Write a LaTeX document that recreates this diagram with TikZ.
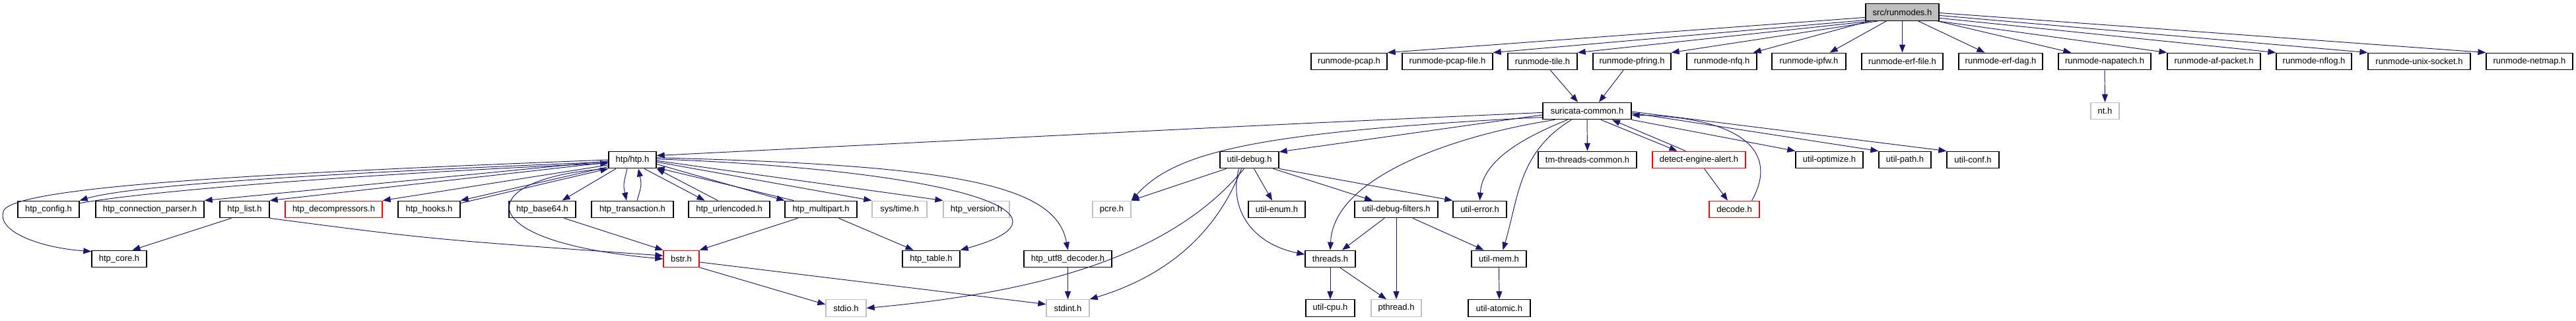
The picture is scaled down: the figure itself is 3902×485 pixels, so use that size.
\documentclass[tikz,border=0pt]{standalone}
\usepackage{fontspec}
\setmainfont{Liberation Sans}
\usetikzlibrary{arrows.meta}
\definecolor{edgeblue}{HTML}{191970}
\definecolor{sysgray}{HTML}{BFBFBF}
\definecolor{hdrred}{HTML}{FF0000}
\tikzset{
  hdr/.style={draw=black, line width=1.3pt, fill=white, inner sep=0pt,
    minimum height=25.5pt, font=\fontsize{13}{15}\selectfont, text=black},
  redhdr/.style={hdr, draw=hdrred},
  syshdr/.style={hdr, draw=sysgray},
  roothdr/.style={hdr, fill=sysgray},
  edge/.style={draw=edgeblue, line width=0.95pt, -{Triangle[length=12pt,width=9pt]}},
}
\begin{document}
\begin{tikzpicture}[x=1pt,y=-1pt]
\useasboundingbox[fill=white] (0,0) rectangle (3902,485);
% row 0
\node[roothdr, minimum width=111pt] (root) at (2881.5,18.5) {src/runmodes.h};
% row 1
\node[hdr, minimum width=115pt] (pcap) at (2043.5,93) {runmode-pcap.h};
\node[hdr, minimum width=137pt] (pcapfile) at (2192.5,93) {runmode-pcap-file.h};
\node[hdr, minimum width=105pt] (tile) at (2336.5,93) {runmode-tile.h};
\node[hdr, minimum width=118pt] (pfring) at (2472,93) {runmode-pfring.h};
\node[hdr, minimum width=106pt] (nfq) at (2608,93) {runmode-nfq.h};
\node[hdr, minimum width=112pt] (ipfw) at (2740,93) {runmode-ipfw.h};
\node[hdr, minimum width=123pt] (erffile) at (2881.5,93) {runmode-erf-file.h};
\node[hdr, minimum width=127pt] (erfdag) at (3030.5,93) {runmode-erf-dag.h};
\node[hdr, minimum width=140pt] (napatech) at (3188,93) {runmode-napatech.h};
\node[hdr, minimum width=141pt] (afpacket) at (3353.5,93) {runmode-af-packet.h};
\node[hdr, minimum width=114pt] (nflog) at (3505,93) {runmode-nflog.h};
\node[hdr, minimum width=155pt] (unixsocket) at (3664.5,93) {runmode-unix-socket.h};
\node[hdr, minimum width=131pt] (netmap) at (3831.5,93) {runmode-netmap.h};
% row 2
\node[hdr, minimum width=134pt] (sc) at (2404,168) {suricata-common.h};
\node[syshdr, minimum width=43pt] (nt) at (3188.5,168) {nt.h};
% row 3
\node[hdr, minimum width=72pt] (htp) at (958,242) {htp/htp.h};
\node[hdr, minimum width=89pt] (ud) at (1892.5,242) {util-debug.h};
\node[hdr, minimum width=149pt] (tm) at (2404.5,242) {tm-threads-common.h};
\node[redhdr, minimum width=141pt] (dea) at (2573.5,242) {detect-engine-alert.h};
\node[hdr, minimum width=102pt] (uopt) at (2771,242) {util-optimize.h};
\node[hdr, minimum width=79pt] (upath) at (2885.5,242) {util-path.h};
\node[hdr, minimum width=79pt] (uconf) at (2988.5,242) {util-conf.h};
% row 4
\node[hdr, minimum width=93pt] (config) at (73.5,317) {htp\_config.h};
\node[hdr, minimum width=164pt] (connparser) at (227,317) {htp\_connection\_parser.h};
\node[hdr, minimum width=75pt] (list) at (370.5,317) {htp\_list.h};
\node[redhdr, minimum width=147pt] (decomp) at (505.5,317) {htp\_decompressors.h};
\node[hdr, minimum width=94pt] (hooks) at (650,317) {htp\_hooks.h};
\node[hdr, minimum width=101pt] (base64) at (821.5,317) {htp\_base64.h};
\node[hdr, minimum width=124pt] (trans) at (958,317) {htp\_transaction.h};
\node[hdr, minimum width=123pt] (urlenc) at (1104.5,317) {htp\_urlencoded.h};
\node[hdr, minimum width=109pt] (multipart) at (1243.5,317) {htp\_multipart.h};
\node[syshdr, minimum width=83pt] (systime) at (1362.5,317) {sys/time.h};
\node[syshdr, minimum width=100pt] (version) at (1479,317) {htp\_version.h};
\node[syshdr, minimum width=58pt] (pcre) at (1684,317) {pcre.h};
\node[hdr, minimum width=86pt] (uenum) at (1934,317) {util-enum.h};
\node[hdr, minimum width=126pt] (udf) at (2115,317) {util-debug-filters.h};
\node[hdr, minimum width=81pt] (uerr) at (2241.5,317) {util-error.h};
\node[redhdr, minimum width=76pt] (decode) at (2627,317) {decode.h};
% row 5
\node[hdr, minimum width=83pt] (core) at (180.5,392) {htp\_core.h};
\node[redhdr, minimum width=54pt] (bstr) at (1032,392) {bstr.h};
\node[hdr, minimum width=87pt] (table) at (1410.5,392) {htp\_table.h};
\node[hdr, minimum width=133pt] (utf8) at (1617.5,392) {htp\_utf8\_decoder.h};
\node[hdr, minimum width=76pt] (threads) at (2015,392) {threads.h};
\node[hdr, minimum width=83pt] (umem) at (2270.5,392) {util-mem.h};
% row 6
\node[syshdr, minimum width=61pt] (stdio) at (1281.5,466.5) {stdio.h};
\node[syshdr, minimum width=65pt] (stdint) at (1617.5,466.5) {stdint.h};
\node[hdr, minimum width=74pt] (ucpu) at (2015,466.5) {util-cpu.h};
\node[syshdr, minimum width=76pt] (pthread) at (2115,466.5) {pthread.h};
\node[hdr, minimum width=94pt] (uatomic) at (2271,466.5) {util-atomic.h};

% root edges
\draw[edge] (root.188) -- (pcap.north east);
\draw[edge] (root.192) -- (pcapfile.north east);
\draw[edge] (root.196) -- (tile.north east);
\draw[edge] (root.200) -- (pfring.north east);
\draw[edge] ([xshift=6pt]root.south west) -- ([xshift=-6pt]nfq.north east);
\draw[edge] ([xshift=32pt]root.south west) -- ([xshift=-25pt]ipfw.north east);
\draw[edge] (root.south) -- (erffile.north);
\draw[edge] ([xshift=-32pt]root.south east) -- ([xshift=40pt]erfdag.north west);
\draw[edge] ([xshift=-3pt]root.south east) -- ([xshift=20pt]napatech.north west);
\draw[edge] (root.-14) -- (afpacket.north west);
\draw[edge] (root.-9) -- (nflog.north west);
\draw[edge] (root.-5) -- (unixsocket.north west);
\draw[edge] (root.-1) -- (netmap.north west);
% row 1
\draw[edge] ([xshift=12pt]tile.south) -- ([xshift=-14pt]sc.north);
\draw[edge] ([xshift=-13pt]pfring.south) -- ([xshift=18pt]sc.north);
\draw[edge] (napatech.south) -- (nt.north);
% suricata-common
\draw[edge] (sc.182) .. controls (1900,190) .. (htp.10);
\draw[edge] (sc.185) -- (ud.15);
\draw[edge] (sc.188) .. controls (1900,200) and (1780,230) .. (pcre.north east);
\draw[edge] ([xshift=19pt]sc.south west) .. controls (2230,200) and (2020,260) .. (threads.north);
\draw[edge] ([xshift=38pt]sc.south west) .. controls (2290,215) and (2245,250) .. (uerr.north);
\draw[edge] ([xshift=44pt]sc.south west) .. controls (2300,230) and (2300,300) .. ([xshift=6pt]umem.north);
\draw[edge] (sc.south) -- (tm.north);
\draw[edge] ([xshift=21pt]sc.south) -- ([xshift=-33pt]dea.north);
\draw[edge] ([xshift=-20pt]dea.north) -- ([xshift=38pt]sc.south);
\draw[edge] (sc.south east) -- (uopt.north west);
\draw[edge] ([yshift=-3pt]sc.east) -- (upath.north west);
\draw[edge] ([yshift=-1pt]sc.east) -- (uconf.north west);
\draw[edge] ([xshift=-12pt]decode.north east) .. controls (2695,230) and (2640,178) .. ([yshift=-6pt]sc.east);
\draw[edge] ([xshift=8pt]dea.south) -- ([xshift=-10pt]decode.north);
% util-debug
\draw[edge] ([xshift=-35pt]ud.south) -- (pcre.north east);
\draw[edge] ([xshift=7pt]ud.south) -- ([xshift=-7pt]uenum.north);
\draw[edge] ([xshift=-16pt]ud.south) .. controls (1860,320) and (1900,370) .. (threads.170);
\draw[edge] ([xshift=-8pt]ud.south) .. controls (1780,380) and (1600,440) .. (stdio.east);
\draw[edge] ([xshift=-12pt]ud.south) .. controls (1840,360) and (1760,420) .. (stdint.north east);
\draw[edge] ([xshift=36pt]ud.south) -- ([xshift=-36pt]udf.north);
\draw[edge] (ud.south east) -- (uerr.north west);
% util-debug-filters etc
\draw[edge] ([xshift=-18pt]udf.south) -- ([xshift=18pt]threads.north);
\draw[edge] (udf.south) -- (pthread.north);
\draw[edge] ([xshift=25pt]udf.south) -- ([xshift=-23pt]umem.north);
\draw[edge] (threads.south) -- (ucpu.north);
\draw[edge] ([xshift=15pt]threads.south) -- ([xshift=-15pt]pthread.north);
\draw[edge] (umem.south) -- (uatomic.north);
% htp
\draw[edge] (htp.west) .. controls (400,262) and (30,282) .. (6,318) .. controls (-8,350) and (60,375) .. (core.165);
\draw[edge] (htp.185) .. controls (500,262) and (200,280) .. (config.north east);
\draw[edge] ([yshift=-4pt]config.north east) .. controls (220,290) and (520,265) .. (htp.188);
\draw[edge] (htp.183) -- (connparser.north east);
\draw[edge] (htp.186) -- (list.north east);
\draw[edge] (htp.192) -- (decomp.north east);
\draw[edge] (htp.196) -- (hooks.north east);
\draw[edge] ([yshift=-4pt]hooks.north east) -- (htp.200);
\draw[edge] (htp.south west) .. controls (720,268) and (700,365) .. (bstr.west);
\draw[edge] ([xshift=-25pt]htp.south) -- ([xshift=30pt]base64.north);
\draw[edge] ([xshift=-8pt]htp.south) .. controls (944,280) .. ([xshift=-9pt]trans.north);
\draw[edge] ([xshift=7pt]trans.north) .. controls (972,280) .. ([xshift=9pt]htp.south);
\draw[edge] ([xshift=18pt]htp.south) -- ([xshift=-37pt]urlenc.north);
\draw[edge] ([xshift=-17pt]urlenc.north) -- (htp.south east);
\draw[edge] (htp.-10) -- (multipart.north west);
\draw[edge] ([xshift=14pt]multipart.north west) -- (htp.-18);
\draw[edge] (htp.-5) -- (systime.north west);
\draw[edge] (htp.-2) -- (version.north west);
\draw[edge] (htp.2) .. controls (1450,258) and (1650,325) .. (table.north east);
\draw[edge] (htp.5) .. controls (1450,250) and (1600,280) .. (utf8.north);
\draw[edge] ([xshift=-20pt]list.south) -- ([xshift=20pt]core.north);
\draw[edge] (list.south east) .. controls (650,362) .. (bstr.170);
\draw[edge] ([xshift=33pt]base64.south) -- (bstr.north west);
\draw[edge] ([xshift=-35pt]multipart.south) -- (bstr.north east);
\draw[edge] ([xshift=27pt]multipart.south) -- ([xshift=-27pt]table.north);
\draw[edge] (bstr.-25) -- (stdio.170);
\draw[edge] (bstr.-10) -- (stdint.170);
\draw[edge] (utf8.south) -- (stdint.north);
\end{tikzpicture}
\end{document}
